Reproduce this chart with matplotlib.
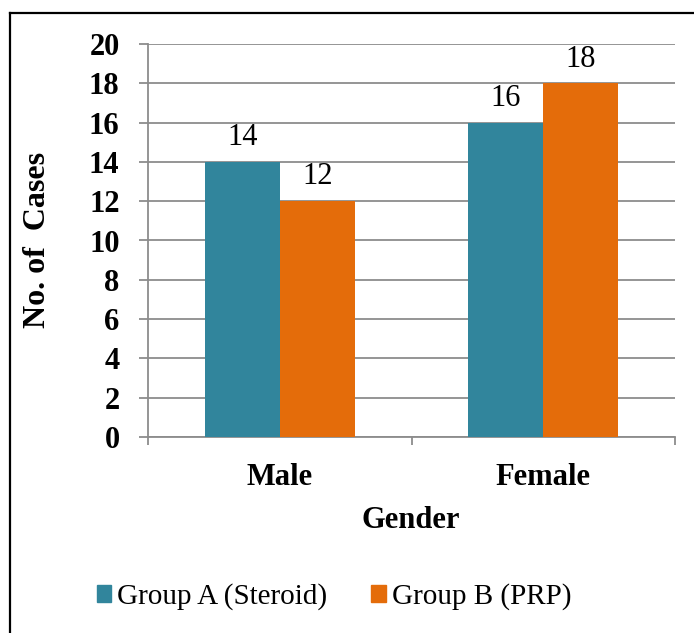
import matplotlib
matplotlib.use("Agg")
import matplotlib.pyplot as plt
from matplotlib.patches import Patch
from matplotlib.lines import Line2D
import numpy as np

# Data
categories = ["Male", "Female"]
group_a = [14, 16]
group_b = [12, 18]
series_names = ["Group A (Steroid)", "Group B (PRP)"]
y_ticks = [0, 2, 4, 6, 8, 10, 12, 14, 16, 18, 20]

TEAL = "#31859C"
ORANGE = "#E46C0A"
GRID = "#8c8c8c"

plt.rcParams["font.family"] = ["Liberation Serif", "DejaVu Serif"]

fig = plt.figure(figsize=(6.94, 6.33), dpi=100)
ax = fig.add_axes([148 / 694, 196 / 633, 527 / 694, 393 / 633])

x = np.arange(len(categories))
w = 75 / 263.5
bars_a = ax.bar(x - w / 2, group_a, w, color=TEAL, zorder=3)
bars_b = ax.bar(x + w / 2, group_b, w, color=ORANGE, zorder=3)

# value labels
for bars in (bars_a, bars_b):
    for b in bars:
        ax.annotate(f"{int(b.get_height())}",
                    (b.get_x() + b.get_width() / 2, b.get_height()),
                    xytext=(0, 7), textcoords="offset points",
                    ha="center", va="bottom", fontsize=22)

ax.set_xlim(-0.5, len(categories) - 0.5)
ax.set_ylim(0, 20)
ax.set_yticks(y_ticks)
ax.set_yticklabels([str(t) for t in y_ticks], fontsize=22, fontweight="bold")
ax.set_xticks(x)
ax.set_xticklabels(categories, fontsize=22, fontweight="bold")
ax.set_xticks(np.arange(-0.5, len(categories)), minor=True)

ax.grid(axis="y", color=GRID, linewidth=1.3, zorder=0)
for s in ("top", "right"):
    ax.spines[s].set_visible(False)
for s in ("left", "bottom"):
    ax.spines[s].set_color(GRID)
    ax.spines[s].set_linewidth(1.3)

ax.tick_params(axis="y", length=6.5, width=1.3, color=GRID, pad=14)
ax.tick_params(axis="x", which="major", length=0, pad=19)
ax.tick_params(axis="x", which="minor", length=6, width=1.3, color=GRID)

fig.text(38 / 694, 1 - 240 / 633, "No. of  Cases", rotation=90,
         ha="center", va="center", fontsize=23, fontweight="bold")
fig.text(411 / 694, 1 - 520 / 633, "Gender", ha="center", va="center",
         fontsize=22, fontweight="bold")

handles = [Patch(color=TEAL), Patch(color=ORANGE)]
fig.legend(handles, series_names, loc="center",
           bbox_to_anchor=(334 / 694, 1 - 597 / 633), ncol=2, frameon=False,
           fontsize=21, handlelength=0.5, handleheight=0.5,
           handletextpad=0.2, columnspacing=1.5)

# outer frame (left and top edges)
fig.add_artist(Line2D([10 / 694, 10 / 694], [0, 1 - 13 / 633],
                      transform=fig.transFigure, color="black", linewidth=1.6))
fig.add_artist(Line2D([10 / 694, 693 / 694], [1 - 13 / 633, 1 - 13 / 633],
                      transform=fig.transFigure, color="black", linewidth=1.6))

fig.savefig("out.png", dpi=100)
